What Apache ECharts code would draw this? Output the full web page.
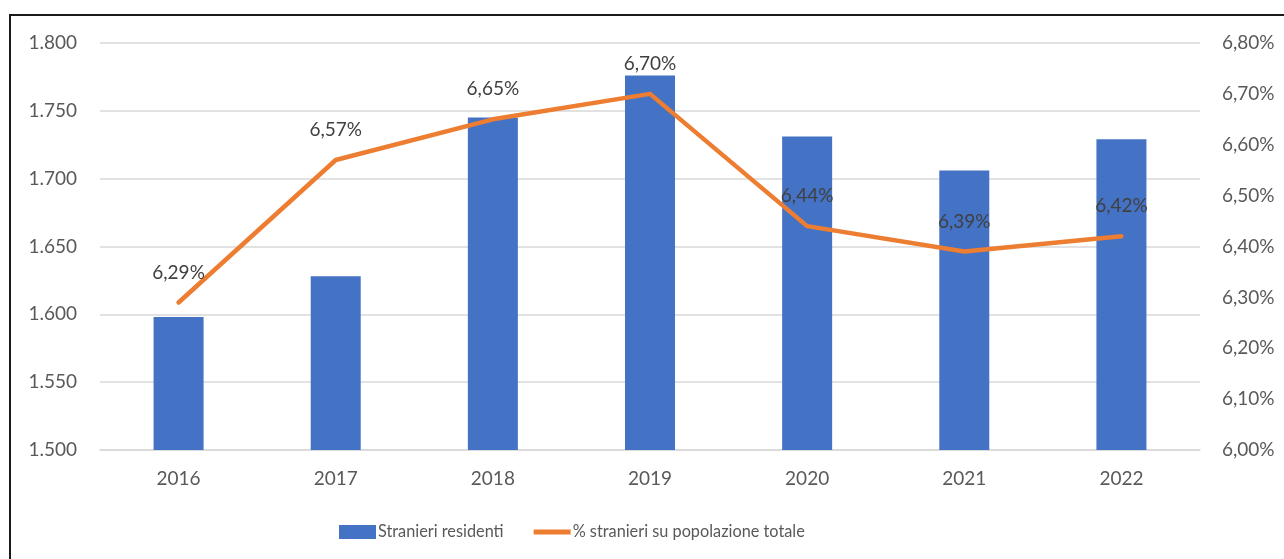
<!DOCTYPE html>
<html><head><meta charset="utf-8">
<script src="https://cdn.jsdelivr.net/npm/echarts@6/dist/echarts.min.js"></script>
<style>html,body{margin:0;padding:0;background:#fff;}#c{width:1284px;height:559px;}</style>
</head><body><div id="c"></div>
<script>
const categories = ['2016','2017','2018','2019','2020','2021','2022'];
const stranieriResidenti = [1598, 1628, 1745, 1776, 1731, 1706, 1729];
const percentualeStranieri = [6.29, 6.57, 6.65, 6.70, 6.44, 6.39, 6.42];
const barName = 'Stranieri residenti';
const lineName = '% stranieri su popolazione totale';

const FONT = 'Lato';
const fmtPct = v => v.toFixed(2).replace('.', ',') + '%';
const fmtThousands = v => String(v).replace(/\B(?=(\d{3})+(?!\d))/g, '.');

const chart = echarts.init(document.getElementById('c'), null, {renderer: 'canvas'});
chart.setOption({
  animation: false,
  backgroundColor: '#fff',
  textStyle: {fontFamily: FONT},
  graphic: [{
    type: 'rect', silent: true,
    shape: {x: 10, y: 15, width: 1400, height: 700},
    style: {fill: 'none', stroke: '#1a1a1a', lineWidth: 2}
  }],
  grid: {left: 100, right: 84, top: 43, bottom: 109, containLabel: false},
  legend: {
    left: 334, top: 519,
    itemGap: 30, itemWidth: 37, itemHeight: 14,
    textStyle: {fontFamily: FONT, fontSize: 16.3, color: '#595959', padding: [0,0,0,-3]},
    data: [
      {name: barName, icon: 'rect'},
      {name: lineName, icon: 'path://M0,0H40V5.5H0Z'}
    ]
  },
  xAxis: {
    type: 'category', data: categories,
    axisLine: {show: true, lineStyle: {color: '#d9d9d9', width: 1.5}},
    axisTick: {show: false},
    axisLabel: {margin: 19, fontFamily: FONT, fontSize: 19, color: '#595959'}
  },
  yAxis: [{
    type: 'value', min: 1500, max: 1800, interval: 50,
    axisLine: {show: false}, axisTick: {show: false},
    splitLine: {lineStyle: {color: '#d9d9d9', width: 1.5}},
    axisLabel: {margin: 23, fontFamily: FONT, fontSize: 19, color: '#595959', formatter: fmtThousands}
  }, {
    type: 'value', min: 6.0, max: 6.8, interval: 0.1,
    axisLine: {show: false}, axisTick: {show: false},
    splitLine: {show: false},
    axisLabel: {margin: 22, fontFamily: FONT, fontSize: 19, color: '#595959', formatter: fmtPct}
  }],
  series: [{
    name: barName, type: 'bar', data: stranieriResidenti,
    barWidth: 50,
    itemStyle: {color: '#4472C4'}
  }, {
    name: lineName, type: 'line', yAxisIndex: 1, data: percentualeStranieri,
    symbol: 'circle', symbolSize: 0, showSymbol: true,
    lineStyle: {color: '#ED7D31', width: 4.5, cap: 'round', join: 'round'},
    itemStyle: {color: '#ED7D31'},
    label: {
      show: true, position: 'top', distance: 20,
      fontFamily: FONT, fontSize: 19, lineHeight: 20, color: '#404040',
      formatter: p => fmtPct(p.value)
    },
    z: 5
  }]
});
</script></body></html>
